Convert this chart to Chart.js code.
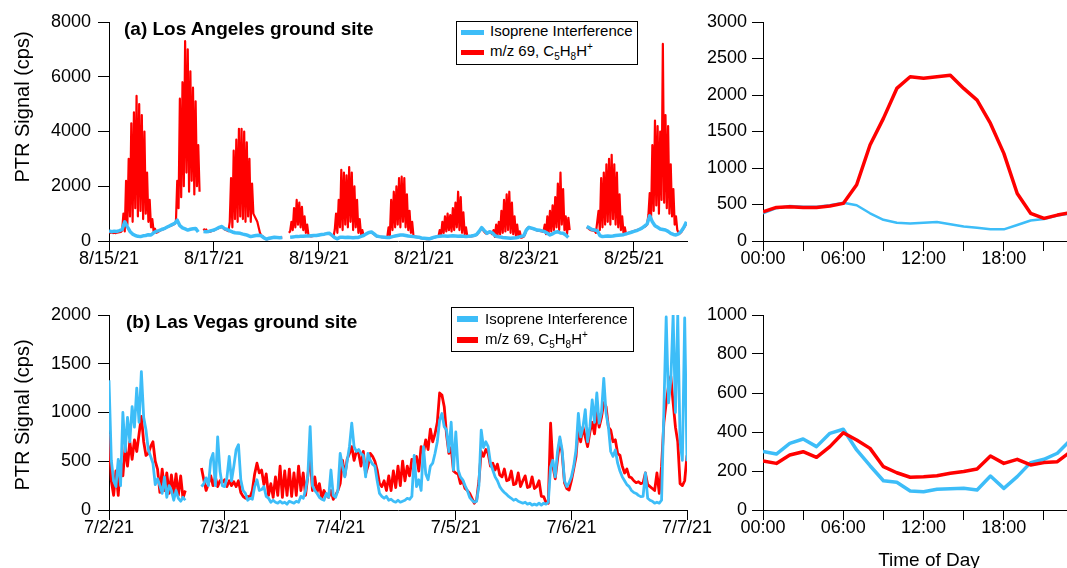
<!DOCTYPE html>
<html>
<head>
<meta charset="utf-8">
<script src="https://cdn.jsdelivr.net/npm/chart.js@4.4.0/dist/chart.umd.min.js"></script>
<style>
  body { margin:0; background:#fff; width:1067px; height:568px; overflow:hidden; position:relative;
         font-family:'Liberation Sans', Arial, Helvetica, sans-serif; color:#000; }
  canvas { position:absolute; }
  .ttl { position:absolute; font-size:19px; line-height:19px; font-weight:bold; white-space:nowrap; }
  .ytitle { position:absolute; width:170px; height:20px; font-size:20px; line-height:20px; text-align:center;
            white-space:nowrap; transform:rotate(-90deg); }
  .xtitle { position:absolute; width:140px; font-size:19px; line-height:19px; text-align:center; }
  .legend { position:absolute; box-sizing:border-box; border:1px solid #000; background:#fff; font-size:15px; }
  .legend .sw { position:absolute; height:5px; }
  .legend .tx { position:absolute; line-height:15px; white-space:nowrap; }
  .legend sub, .legend sup { font-size:10px; line-height:0; }
</style>
</head>
<body>

<canvas id="laSeries" width="730" height="290" style="left:0;top:0"></canvas>
<canvas id="laDiurnal" width="377" height="290" style="left:690px;top:0"></canvas>
<canvas id="lvSeries" width="730" height="278" style="left:0;top:290px"></canvas>
<canvas id="lvDiurnal" width="377" height="278" style="left:690px;top:290px"></canvas>

<div class="ttl" style="left:124px;top:19px">(a) Los Angeles ground site</div>
<div class="ttl" style="left:126px;top:312px">(b) Las Vegas ground site</div>
<div class="ytitle" style="left:-63px;top:97px">PTR Signal (cps)</div>
<div class="ytitle" style="left:-63px;top:405px">PTR Signal (cps)</div>
<div class="xtitle" style="left:859px;top:550px">Time of Day</div>

<div class="legend" style="left:456px;top:21px;width:182px;height:44px">
  <div class="sw" style="left:4px;top:8px;width:23px;background:#3dbdf8"></div>
  <div class="tx" style="left:33px;top:1px">Isoprene Interference</div>
  <div class="sw" style="left:4px;top:28px;width:23px;background:#ff0000"></div>
  <div class="tx" style="left:33px;top:21px">m/z 69, C<sub>5</sub>H<sub>8</sub>H<sup>+</sup></div>
</div>
<div class="legend" style="left:451px;top:307px;width:183px;height:45px">
  <div class="sw" style="left:5px;top:8px;width:21px;height:6px;background:#3dbdf8"></div>
  <div class="tx" style="left:33px;top:3px">Isoprene Interference</div>
  <div class="sw" style="left:5px;top:29px;width:21px;height:6px;background:#ff0000"></div>
  <div class="tx" style="left:33px;top:23px">m/z 69, C<sub>5</sub>H<sub>8</sub>H<sup>+</sup></div>
</div>

<script>
// ---- data ----
// Los Angeles, days since 8/15/21
const LA_M69_STEP = 0.025;   // days between m/z 69 samples
const LA_ISO_STEP = 0.05;    // days between isoprene interference samples
const laTickDays = [0, 2, 4, 6, 8, 10];
const laTickLabels = ['8/15/21', '8/17/21', '8/19/21', '8/21/21', '8/23/21', '8/25/21'];

const laM69 = [
  320,300,310,290,300,290,300,310,320,330,380,1000,350,2200,600,3000,900,4300,700,4700,1200,5300,900,5000,1100,4600,800,4000,1000,2500,700,1500,500,800,350,450,300,320,350,380,
  400,420,450,470,500,520,540,560,580,600,620,700,2200,1200,5200,1600,5800,2000,7300,2500,7000,1800,6200,2200,5600,1700,5100,2000,3500,1800,null,null,450,380,420,350,330,340,360,380,
  390,420,440,460,480,500,510,470,430,400,380,360,700,2300,500,3300,800,3700,700,4100,900,4100,800,4000,700,3600,900,3000,700,2100,1000,900,800,700,500,300,200,180,110,80,
  60,70,90,100,110,120,130,120,120,110,110,120,120,null,null,null,null,300,350,700,400,1200,500,1500,600,1400,500,1250,400,900,300,600,200,180,170,180,190,190,200,200,
  210,220,230,240,250,260,260,270,270,240,200,150,400,1000,300,1500,500,2600,400,2500,600,2400,500,2700,700,2500,400,2000,500,1500,300,800,250,400,200,230,260,290,310,300,
  310,280,240,200,170,160,150,150,140,140,130,130,130,500,200,1500,400,1800,500,2000,600,2300,500,2350,700,2300,500,1700,400,1100,300,700,170,160,150,140,130,120,100,90,
  80,80,70,70,70,90,100,120,140,150,160,160,400,200,700,300,900,350,1000,400,950,350,1200,400,1400,500,1800,400,1600,300,1050,250,500,170,160,170,170,180,190,200,
  220,270,330,400,470,400,330,280,270,300,320,300,250,400,150,600,200,700,250,1100,300,1500,350,1700,400,1800,300,1400,250,900,200,600,150,350,120,130,160,250,400,480,
  490,480,460,450,430,410,390,380,370,360,350,330,600,250,900,300,1100,350,1300,400,1600,500,2100,400,2500,600,1900,400,900,250,850,400,null,null,null,null,null,null,null,null,
  null,null,null,null,500,470,430,400,390,380,370,300,700,1100,400,2300,500,2500,600,2800,700,3000,600,3150,800,2800,600,2500,500,1700,400,900,300,500,250,280,300,320,330,350,
  360,380,390,410,430,450,470,500,520,550,600,950,1750,800,3500,1100,4400,1300,4200,1000,4000,1500,7200,1400,4600,1200,4200,1000,2800,900,1900,600,900,400,300,280,320,400,480,560,
  650
];

const laIso = [
  370,340,360,350,380,420,700,520,350,250,200,170,160,190,200,230,220,300,350,380,
  420,450,500,550,600,640,760,560,480,440,400,430,450,460,330,null,350,340,350,380,
  400,450,500,530,450,420,370,330,300,290,280,250,230,200,160,180,200,210,190,120,
  70,100,120,140,130,120,130,null,null,140,150,160,160,170,170,180,180,190,200,200,
  220,240,250,270,280,200,120,80,140,140,130,140,130,120,130,130,170,200,260,310,
  330,260,180,160,150,140,130,130,160,180,200,220,220,200,180,170,160,150,140,110,
  100,90,80,110,140,160,170,180,180,170,180,190,180,170,180,170,160,170,180,200,
  230,350,490,380,280,340,300,200,160,150,130,120,110,100,110,120,140,170,190,400,
  500,470,440,400,390,370,340,280,220,260,320,340,290,280,220,130,null,null,null,null,
  null,null,530,480,420,400,380,200,160,170,180,170,180,200,210,220,230,260,290,320,
  350,380,420,470,540,620,920,700,560,500,440,420,400,350,280,240,220,260,360,500,
  700
];

// Las Vegas, days since 7/2/21
const LV_STEP = 0.02;
const lvTickDays = [0, 1, 2, 3, 4, 5];
const lvTickLabels = ['7/2/21', '7/3/21', '7/4/21', '7/5/21', '7/6/21', '7/7/21'];

const lvIso = [
  1330,510,300,240,520,250,1000,600,950,700,1060,850,1250,900,1420,950,820,620,550,480,260,320,250,170,340,130,250,200,100,200,120,90,130,100,null,null,null,null,null,null,240,270,330,250,510,580,250,750,400,250,
  240,330,550,300,450,620,670,310,200,170,100,120,110,240,310,200,210,240,140,120,80,100,80,70,90,70,80,60,90,80,70,90,80,140,120,200,350,855,250,200,170,130,110,100,170,130,410,150,130,200,
  580,450,340,500,650,890,650,600,620,580,560,340,580,510,470,450,300,170,140,120,140,100,110,90,80,100,80,90,100,120,110,140,560,240,310,200,650,370,310,450,480,580,700,920,990,855,820,600,900,410,
  800,410,340,310,250,200,130,100,80,90,250,820,640,700,650,480,410,340,300,240,205,180,160,137,120,100,110,90,80,70,80,60,70,50,60,50,70,50,70,60,80,440,510,340,600,750,615,300,240,280,
  340,450,615,990,750,850,1030,700,855,1130,900,1200,890,1000,1350,990,855,600,550,615,480,400,340,300,260,240,200,180,170,150,137,140,380,120,100,90,70,80,70,100,1030,1980,1100,1330,2000,1000,2000,700,510,1970,
  500
];

const lvM69 = [
  780,300,150,400,150,500,350,650,450,700,520,720,600,780,960,700,560,580,650,700,500,420,180,420,200,380,170,360,160,370,150,350,120,200,null,null,null,null,null,null,430,310,200,270,350,250,340,240,300,280,
  310,240,300,250,290,240,300,180,140,120,140,130,200,370,480,380,410,260,370,150,270,130,340,150,450,130,400,150,420,140,380,150,450,200,380,150,350,560,200,340,180,270,120,200,150,130,200,110,150,200,
  270,510,350,520,580,650,510,600,580,450,600,370,450,580,550,500,410,270,240,300,200,350,200,400,230,450,250,500,300,450,350,520,510,550,400,650,580,720,620,830,700,780,900,1200,1180,1060,770,580,640,400,
  380,370,270,300,220,200,170,120,70,100,300,600,550,620,580,450,480,410,470,360,340,420,300,310,400,260,270,380,240,300,350,230,240,340,220,240,300,140,137,80,70,890,450,320,520,720,580,280,220,205,
  300,420,550,850,700,850,750,650,800,900,780,1000,850,950,1100,1060,850,820,700,720,580,560,450,380,420,340,330,300,280,290,270,280,380,260,240,220,200,380,170,450,900,1100,1270,1370,1100,850,700,270,250,300,
  560
];

// diurnal profiles, hour of day 0..23
const hours = [0,1,2,3,4,5,6,7,8,9,10,11,12,13,14,15,16,17,18,19,20,21,22,23];
const hourTicks = [0, 3, 6, 9, 12, 15, 18, 21];
const hourTickLabels = ['00:00', '', '06:00', '', '12:00', '', '18:00', ''];
const laDiurnalM69 = [400,460,470,460,460,480,515,770,1315,1680,2090,2250,2230,2250,2270,2090,1930,1610,1200,650,380,310,355,390];
const laDiurnalIso = [380,450,480,470,470,490,525,490,380,290,250,240,250,260,230,200,180,160,160,220,280,300,350,380];
const lvDiurnalM69 = [251,239,282,299,270,325,396,359,316,222,191,168,171,176,188,197,210,277,239,260,231,243,248,300];
const lvDiurnalIso = [300,287,342,364,325,393,414,308,227,150,142,97,94,106,109,111,103,174,111,171,243,260,291,360];

const RED = '#ff0000';
const BLUE = '#3dbdf8';

Chart.defaults.font.family = "'Liberation Sans', Arial, Helvetica, sans-serif";
Chart.defaults.font.size = 18;
Chart.defaults.color = '#000';

function onGrid(vals, step) {
  return vals.map((v, i) => ({ x: i * step, y: v }));
}
function onHours(vals) {
  return vals.map((v, i) => ({ x: hours[i], y: v }));
}

function line(data, color, width) {
  return {
    data: data, borderColor: color, borderWidth: width, pointRadius: 0,
    tension: 0, spanGaps: false, fill: false, borderJoinStyle: 'round'
  };
}

function panel(id, o) {
  new Chart(document.getElementById(id), {
    type: 'line',
    data: { datasets: o.datasets },
    options: {
      responsive: false,
      animation: false,
      events: [],
      layout: { padding: { left: 0, right: o.padRight, top: o.padTop, bottom: 0 } },
      plugins: { legend: { display: false }, tooltip: { enabled: false } },
      scales: {
        x: {
          type: 'linear', min: o.xMin, max: o.xMax,
          border: { display: true, color: '#000', width: 1 },
          grid: { display: true, drawOnChartArea: false, drawTicks: true, tickLength: 10, color: '#000' },
          ticks: {
            autoSkip: false, maxRotation: 0, padding: -3,
            callback: (v, i) => o.xLabels[i]
          },
          afterBuildTicks: s => { s.ticks = o.xTicks.map(v => ({ value: v })); },
          afterFit: s => { s.height = o.xHeight; s.paddingLeft = 0; s.paddingRight = 0; }
        },
        y: {
          min: 0, max: o.yMax,
          border: { display: true, color: '#000', width: 1 },
          grid: { display: true, drawOnChartArea: false, drawTicks: true, tickLength: 11, color: '#000' },
          ticks: { stepSize: o.yStep, padding: o.yPad, callback: v => String(v) },
          afterFit: s => { s.width = o.yWidth; s.paddingTop = 0; s.paddingBottom = 0; }
        }
      }
    }
  });
}

panel('laSeries', {
  xMin: 0, xMax: 11.01, xTicks: laTickDays, xLabels: laTickLabels,
  yMax: 8000, yStep: 2000, yWidth: 109, yPad: 7, xHeight: 49, padTop: 22, padRight: 43,
  datasets: [
    line(onGrid(laIso, LA_ISO_STEP), BLUE, 3.5),
    line(onGrid(laM69, LA_M69_STEP), RED, 2.2)
  ]
});

panel('laDiurnal', {
  xMin: 0, xMax: 22.72, xTicks: hourTicks, xLabels: hourTickLabels,
  yMax: 3000, yStep: 500, yWidth: 73, yPad: 5, xHeight: 49, padTop: 22, padRight: 0,
  datasets: [
    line(onHours(laDiurnalM69), RED, 3.5),
    line(onHours(laDiurnalIso), BLUE, 2.5)
  ]
});

panel('lvSeries', {
  xMin: 0, xMax: 5, xTicks: lvTickDays, xLabels: lvTickLabels,
  yMax: 2000, yStep: 500, yWidth: 109, yPad: 7, xHeight: 58, padTop: 25, padRight: 43,
  datasets: [
    line(onGrid(lvIso, LV_STEP), BLUE, 2.8),
    line(onGrid(lvM69, LV_STEP), RED, 2.8)
  ]
});

panel('lvDiurnal', {
  xMin: 0, xMax: 22.72, xTicks: hourTicks, xLabels: hourTickLabels,
  yMax: 1000, yStep: 200, yWidth: 73, yPad: 5, xHeight: 58, padTop: 25, padRight: 0,
  datasets: [
    line(onHours(lvDiurnalM69), RED, 3.5),
    line(onHours(lvDiurnalIso), BLUE, 3.5)
  ]
});
</script>
</body>
</html>
